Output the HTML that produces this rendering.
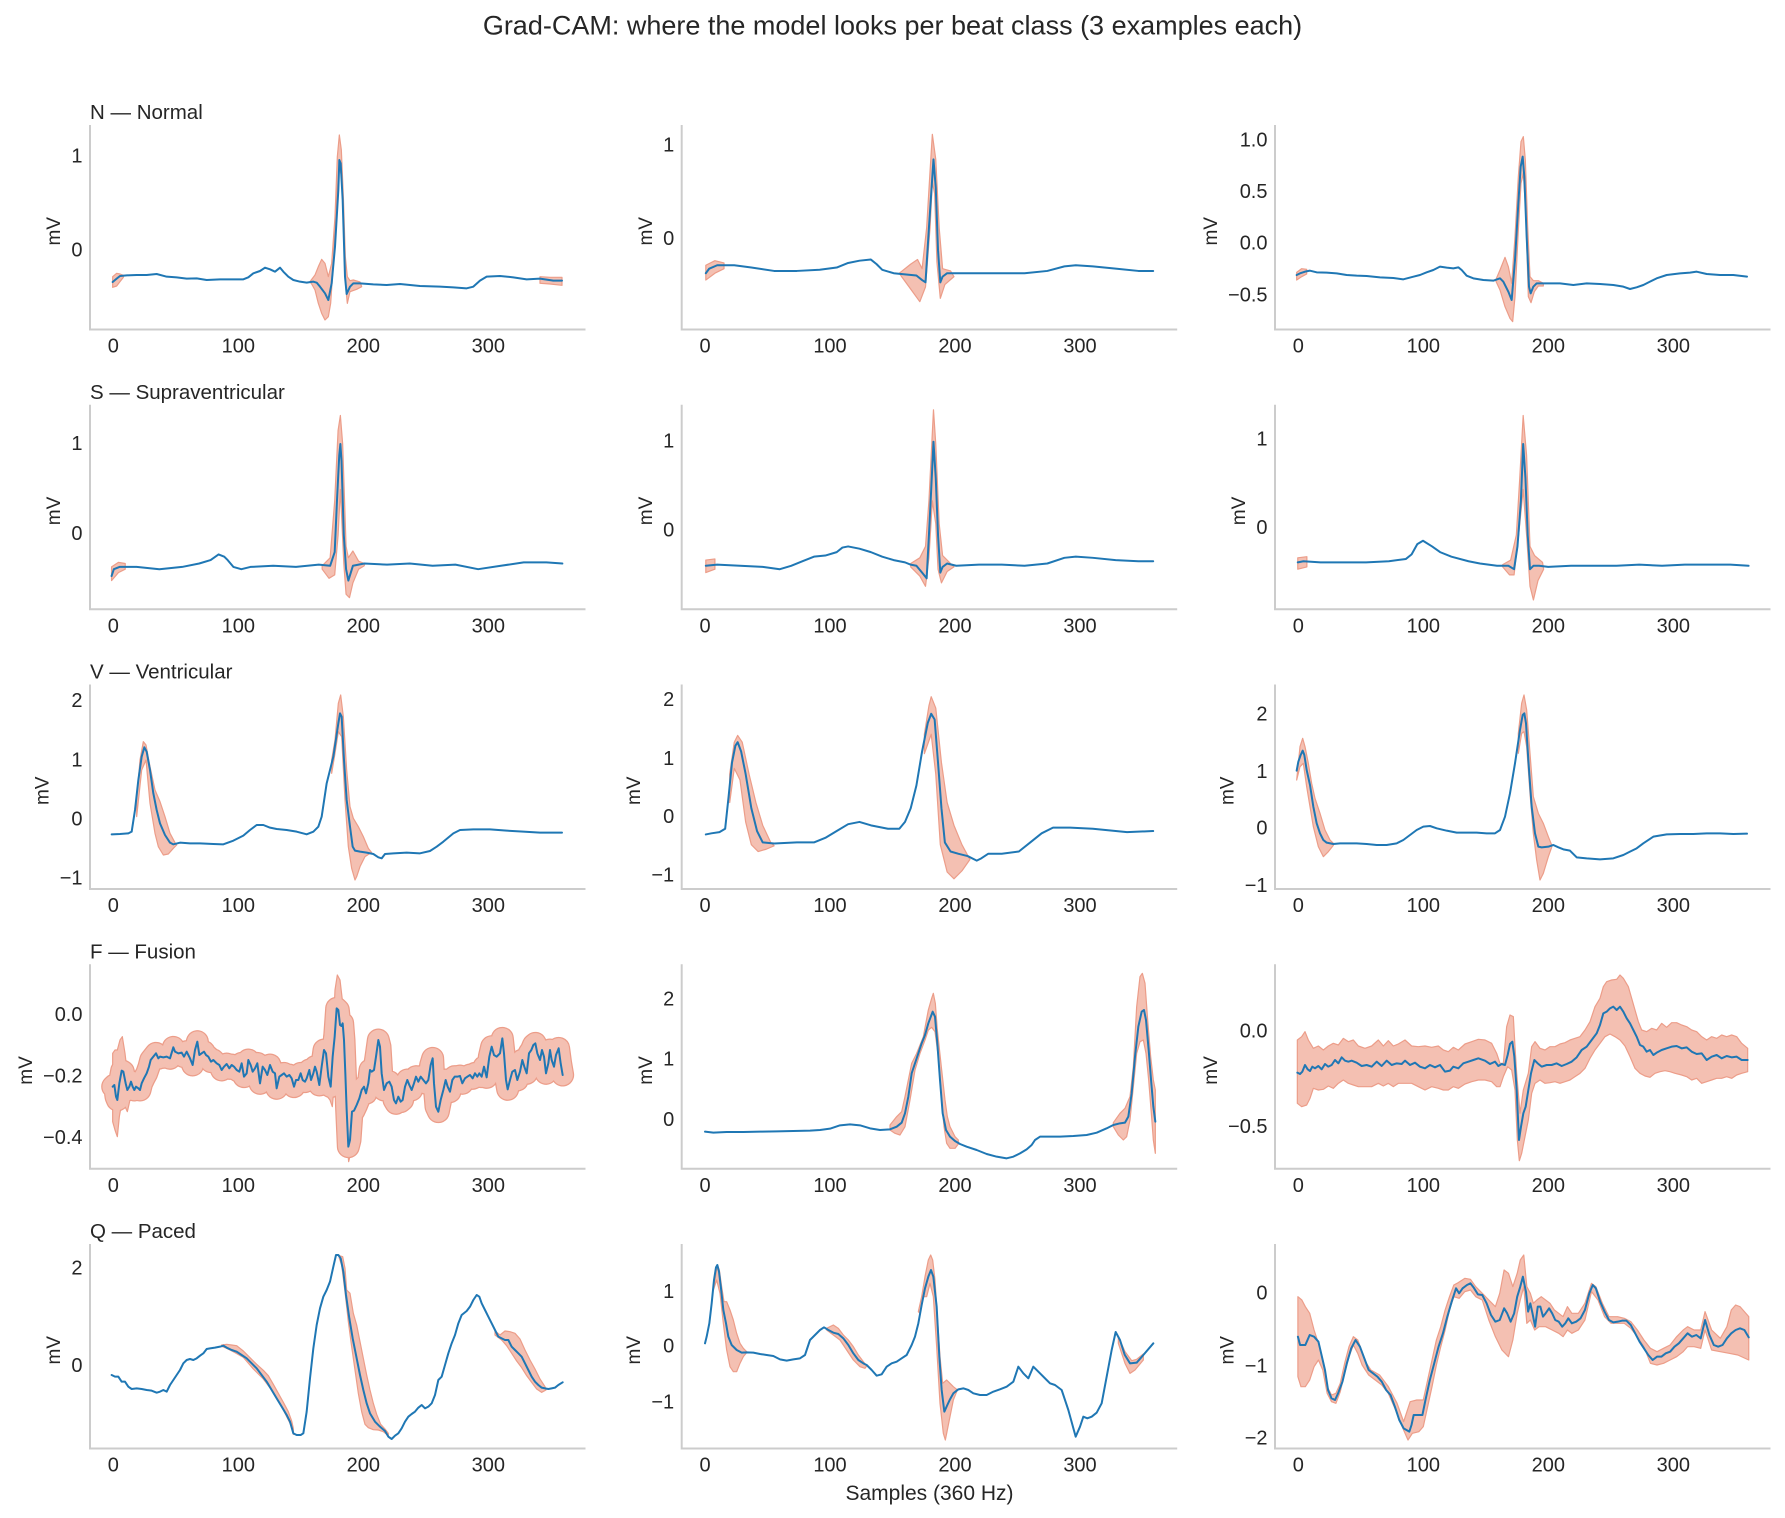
<!DOCTYPE html>
<html><head><meta charset="utf-8"><style>
html,body{margin:0;padding:0;background:#fff;overflow:hidden}
svg{display:block}
text{font-family:"Liberation Sans",Arial,sans-serif;fill:#262626}
.ln{fill:none;stroke:#1f77b4;stroke-width:2;stroke-linejoin:round;stroke-linecap:round;vector-effect:non-scaling-stroke}
.bd{fill:#f4c0b2;stroke:#ec9d89;stroke-width:1.2;stroke-linejoin:round;vector-effect:non-scaling-stroke}
.sp{fill:none;stroke:#cccccc;stroke-width:2}
.yt{font-size:20px;text-anchor:end}
.xt{font-size:20px;text-anchor:middle}
.ttl{font-size:20.5px}
.ml{font-size:19px;text-anchor:middle}
</style></head><body>
<svg width="1785" height="1518" viewBox="0 0 1785 1518" xmlns="http://www.w3.org/2000/svg">
<defs>
<polyline id="f1" vector-effect="non-scaling-stroke" points="98,440 103,435 108,470 112,480 118,430 125,392 130,395 137,430 142,450 148,440 153,425 158,440 163,450 168,440 175,445 180,450 185,430 192,415 200,400 207,380 212,360 220,350 228,340 235,355 240,350 250,352 260,350 270,355 280,322 285,335 295,340 305,338 312,350 320,335 330,355 338,375 345,330 352,305 358,345 365,340 372,335 378,345 385,350 393,365 400,360 410,370 418,375 425,390 432,380 440,372 448,385 455,375 462,380 470,390 478,395 485,370 492,410 500,400 505,360 512,375 518,395 525,385 532,370 540,430 548,380 555,390 562,405 570,375 578,395 585,400 590,445 598,410 605,405 612,400 620,410 628,405 635,415 642,440 648,420 655,420 662,400 668,420 675,425 680,415 688,390 693,420 700,400 705,380 710,395 718,435 725,380 732,330 738,340 745,410 752,440 758,350 764,290 770,205 775,210 780,255 784,258 788,250 792,300 796,400 800,510 805,620 810,600 816,515 822,512 830,495 838,475 845,450 852,440 858,460 865,430 870,390 875,395 882,390 888,350 895,300 900,320 905,400 912,450 920,430 928,425 935,440 942,480 948,490 955,470 962,485 968,480 975,440 982,420 988,435 995,450 1002,430 1008,410 1015,425 1022,410 1030,420 1038,430 1045,420 1052,375 1058,355 1062,430 1068,500 1075,515 1082,480 1090,450 1097,420 1103,440 1110,455 1117,420 1124,410 1132,410 1140,408 1147,430 1155,415 1162,410 1170,405 1178,415 1185,400 1192,410 1198,400 1205,410 1212,380 1220,412 1228,350 1235,320 1242,345 1250,350 1255,345 1260,340 1267,295 1272,340 1278,420 1283,448 1290,420 1297,395 1305,390 1312,420 1320,395 1327,360 1333,380 1340,400 1347,340 1354,330 1360,315 1366,310 1372,340 1380,360 1386,330 1392,350 1398,400 1405,370 1410,330 1415,360 1422,380 1428,345 1436,325 1442,370 1448,405"/>
</defs>
<rect width="1785" height="1518" fill="#fff"/>

<!-- Panel 1,1 (zoom3 frame) -->
<g transform="translate(20,90) scale(0.333333)">
<polygon class="bd" points="278,560 290,550 300,552 310,556 310,562 300,575 290,588 278,592"/>
<polygon class="bd" points="870,575 885,555 895,530 905,508 915,520 925,560 935,520 945,380 952,200 958,135 964,180 970,320 976,500 982,560 990,572 1000,570 1020,576 1025,590 1010,598 990,605 982,640 978,600 972,420 965,260 958,230 950,320 940,520 932,640 925,680 915,690 905,670 895,640 885,600 875,582"/>
<polygon class="bd" points="1560,560 1590,562 1626,562 1626,586 1590,582 1560,580"/>
<polyline class="ln" points="278,576 290,566 300,558 320,556 350,555 380,555 410,552 440,560 470,562 500,566 530,565 560,570 600,568 640,568 670,568 685,562 700,550 720,543 735,533 750,538 765,545 780,533 790,545 805,560 820,570 840,575 860,578 880,575 890,578 900,590 915,610 925,630 935,580 945,470 955,300 958,210 962,220 968,330 975,560 980,612 990,590 1000,580 1020,580 1060,583 1100,585 1140,582 1200,588 1260,590 1300,592 1340,595 1360,590 1380,572 1400,560 1440,558 1480,562 1520,568 1560,566 1600,572 1626,572"/>
</g>

<!-- Main display frame panels -->
<g transform="scale(1.138393)">
<!-- 1,2 -->
<polygon class="bd" points="620,233 628,229 636,231 636,236 628,240 620,246"/>
<polygon class="bd" points="790,240 800,232 806,228 810,236 814,200 817,150 819,118 822,140 825,200 828,236 835,238 838,243 830,250 826,262 823,230 821,170 819,160 817,200 813,252 808,265 800,254 792,243"/>
<polyline class="ln" points="620,240 623,236 630,233 645,233 660,235 680,238 700,238 720,237 735,235 745,231 755,229 765,228 770,232 775,237 785,240 795,241 805,242 810,246 813,248 816,200 818,170 820,140 822,165 824,220 826,248 828,243 832,240 840,240 870,240 900,240 920,238 935,234 945,233 960,234 980,236 1000,238 1013,238"/>
<!-- 2,1 -->
<polygon class="bd" points="98,498 104,494 110,495 110,500 104,503 98,510"/>
<polygon class="bd" points="283,497 290,490 294,440 297,378 299,365 301,390 304,480 306,490 310,484 315,493 320,495 320,497 315,500 310,512 307,525 304,522 302,495 299,430 297,470 294,505 289,508 283,500"/>
<polyline class="ln" points="98,506 100,500 105,498 120,498 140,500 160,498 175,495 185,492 192,487 197,489 200,492 205,498 212,500 220,498 240,497 260,498 280,496 290,497 294,485 296,440 298,400 299,390 300,405 302,470 304,500 306,510 310,497 320,495 340,496 360,495 380,497 400,496 420,500 440,497 460,494 480,494 494,495"/>
<!-- 2,2 -->
<polygon class="bd" points="620,492 628,491 628,500 620,503"/>
<polygon class="bd" points="800,495 808,490 813,480 816,440 818,400 820,360 822,390 825,460 828,488 835,495 838,498 832,502 827,512 824,500 822,460 819,440 816,490 813,515 808,506 800,498"/>
<polyline class="ln" points="620,497 630,496 650,497 670,498 685,500 695,497 705,493 715,489 725,488 735,485 740,481 745,480 755,482 765,485 775,489 785,492 795,494 800,496 805,497 810,503 814,508 816,470 818,430 820,388 822,420 824,470 826,503 828,498 832,495 840,497 860,496 880,496 900,497 920,495 935,490 945,489 960,490 980,492 1000,493 1013,493"/>
<!-- 2,3 -->
<polygon class="bd" points="1140,490 1148,489 1148,498 1140,500"/>
<polygon class="bd" points="1320,496 1327,492 1332,470 1335,420 1338,365 1341,400 1344,480 1348,488 1355,494 1356,500 1351,510 1347,527 1344,515 1341,470 1338,430 1334,470 1330,505 1326,505 1320,498"/>
<polyline class="ln" points="1140,494 1145,493 1160,494 1180,494 1200,494 1220,493 1235,491 1240,487 1245,478 1250,475 1258,480 1265,485 1275,489 1290,493 1300,495 1315,497 1325,497 1330,500 1333,480 1336,440 1338,390 1340,420 1342,470 1344,500 1347,497 1352,497 1360,498 1380,497 1400,497 1420,497 1440,496 1460,497 1480,496 1500,496 1520,496 1536,497"/>
<!-- 3,2 -->
<polygon class="bd" points="641,680 645,652 648,646 652,652 658,680 664,705 670,725 677,740 680,743 673,746 666,748 660,742 655,722 650,685 645,675 641,705"/>
<polygon class="bd" points="812,645 816,620 818,612 822,622 827,670 832,705 838,725 845,742 852,755 845,765 838,772 832,766 826,742 822,680 818,645 812,662"/>
<polyline class="ln" points="620,733 625,732 632,731 637,728 640,700 643,670 646,655 648,652 651,660 655,680 660,710 665,730 670,740 680,741 700,740 715,740 725,736 735,730 745,724 755,722 765,725 780,728 790,728 795,722 800,710 805,690 810,660 815,635 818,627 821,632 824,670 827,710 830,740 835,748 842,750 850,752 858,756 862,754 868,750 880,750 895,748 905,740 915,732 925,727 940,727 960,728 990,731 1013,730"/>
</g>

<!-- Panel 1,3 (zoom12 frame) -->
<g transform="translate(1200,110) scale(0.333333)">
<polygon class="bd" points="290,487 305,476 320,478 320,492 305,500 290,510"/>
<polygon class="bd" points="888,508 900,480 915,442 925,470 935,520 945,380 955,200 963,95 970,80 976,150 983,350 990,500 1000,512 1015,512 1030,520 1030,528 1015,528 1003,545 993,578 985,560 977,300 970,190 963,220 955,360 945,560 938,635 930,625 915,590 900,540 888,514"/>
<polyline class="ln" points="290,495 300,490 315,485 330,482 350,487 380,488 410,490 440,495 470,497 500,498 540,502 580,504 610,508 640,500 660,495 680,487 700,480 720,470 740,473 760,475 775,472 785,480 800,497 820,505 850,510 880,512 900,505 910,515 925,545 935,570 945,450 955,280 962,170 968,140 973,200 980,380 987,530 992,550 1000,530 1010,520 1040,520 1080,520 1120,525 1160,520 1200,522 1240,525 1270,530 1290,537 1310,532 1330,525 1350,515 1370,505 1400,495 1440,490 1470,488 1490,485 1520,492 1560,495 1600,495 1641,500"/>
</g>

<!-- Panel 3,1 (zoom10 frame) -->
<g transform="translate(40,660) scale(0.333333)">
<polygon class="bd" points="290,420 300,300 310,245 318,255 330,320 345,390 360,425 375,470 390,520 405,548 410,555 400,565 385,582 370,585 355,560 345,520 330,430 318,300 305,330 290,470"/>
<polygon class="bd" points="875,300 885,240 895,130 902,105 910,170 920,330 930,440 940,475 955,500 970,530 985,565 995,578 990,580 975,590 960,620 950,650 945,660 935,625 925,560 915,420 905,230 895,215 885,280 875,340"/>
<polyline class="ln" points="215,523 240,522 265,520 275,515 285,450 295,360 305,290 313,262 320,275 330,330 340,400 350,450 360,490 375,525 390,548 400,553 420,548 450,550 480,550 520,552 550,553 580,542 610,527 630,510 650,495 670,495 690,503 710,507 740,510 770,515 800,523 820,515 835,500 845,470 860,370 880,290 895,190 900,160 905,170 912,300 920,420 930,500 938,560 945,572 960,575 980,578 1000,582 1015,592 1025,595 1035,582 1060,580 1100,578 1140,580 1170,573 1190,560 1210,545 1240,520 1260,510 1300,508 1350,508 1400,512 1450,515 1500,518 1566,518"/>
</g>

<!-- Panel 3,3 (zoom11 frame) -->
<g transform="translate(1200,660) scale(0.333333)">
<polygon class="bd" points="290,360 300,260 308,235 315,260 325,310 335,370 345,415 360,460 375,510 390,540 400,550 400,556 385,575 370,590 355,560 340,500 330,440 320,380 310,310 300,320 290,360"/>
<polygon class="bd" points="955,220 965,130 972,105 980,150 990,280 1000,410 1015,460 1030,490 1045,530 1055,555 1055,562 1045,590 1030,640 1020,660 1010,600 1000,520 990,400 980,260 972,215 965,220 955,280"/>
<polyline class="ln" points="290,332 295,305 302,285 308,272 313,285 320,330 330,375 340,440 350,490 360,520 370,540 380,548 400,552 420,550 440,550 470,550 500,552 530,555 560,555 590,550 610,540 630,525 650,510 670,500 690,498 710,505 740,512 770,518 800,518 830,518 860,520 885,520 900,510 915,470 930,400 945,310 960,210 968,165 973,160 978,190 985,300 995,440 1005,520 1015,560 1025,562 1045,560 1060,555 1075,562 1090,568 1110,572 1130,592 1160,595 1200,598 1240,595 1270,585 1290,575 1310,565 1330,550 1360,530 1400,523 1440,522 1480,522 1520,520 1560,520 1600,522 1641,521"/>
</g>

<!-- Panel 4,1 (zoom6 frame) -->
<g transform="translate(80,940) scale(0.333333)">
<use href="#f1" fill="none" stroke="#ec9d89" stroke-width="23" stroke-linejoin="round" stroke-linecap="round"/>
<polygon class="bd" points="98,340 105,330 112,330 120,300 127,290 135,340 142,400 150,410 150,480 142,515 135,500 125,490 118,530 112,590 105,570 98,545"/>
<polygon class="bd" points="725,330 735,265 742,300 750,410 758,300 765,150 772,105 780,120 787,180 792,260 797,350 804,540 812,575 820,480 820,560 812,640 806,665 800,600 794,430 788,320 782,290 776,300 770,300 764,420 757,500 750,480 742,470 735,420 725,440"/>
<use href="#f1" fill="none" stroke="#f4c0b2" stroke-width="20.5" stroke-linejoin="round" stroke-linecap="round"/>
<use href="#f1" fill="none" stroke="#1f77b4" stroke-width="2" stroke-linejoin="round" stroke-linecap="round"/>
</g>

<!-- Panel 4,2 (zoom9 frame) -->
<g transform="translate(660,940) scale(0.333333)">
<polygon class="bd" points="690,555 710,530 725,515 735,470 755,370 770,340 790,290 805,210 815,175 820,160 826,190 832,270 845,390 855,480 862,530 870,560 885,590 895,600 895,612 885,625 870,625 860,610 852,560 845,480 835,350 825,275 815,262 805,270 795,300 780,340 765,390 750,480 735,560 720,585 705,580 690,570"/>
<polygon class="bd" points="1360,548 1380,520 1395,505 1410,470 1420,380 1430,200 1440,110 1447,100 1455,130 1463,240 1472,350 1480,420 1486,450 1486,640 1480,600 1474,520 1466,420 1458,340 1450,300 1440,305 1430,340 1420,440 1410,540 1400,590 1390,600 1375,585 1360,560"/>
<polyline class="ln" points="135,575 160,578 200,576 250,576 300,575 350,574 400,573 450,572 480,570 510,566 540,556 570,553 600,556 630,565 660,570 690,568 710,560 725,548 735,520 745,470 755,400 765,370 775,340 785,310 795,285 805,250 818,215 825,230 832,310 840,420 848,520 858,570 870,590 885,603 900,612 920,620 950,630 980,642 1010,650 1040,655 1060,650 1080,640 1100,628 1115,615 1125,600 1140,590 1160,590 1200,590 1240,588 1280,585 1310,578 1340,565 1360,555 1380,550 1395,548 1405,530 1415,460 1425,350 1435,260 1445,215 1452,210 1458,240 1466,330 1474,430 1480,500 1486,545"/>
</g>

<!-- Panel 4,3 (zoom7 frame) -->
<g transform="translate(1265,940) scale(0.333333)">
<polygon class="bd" points="97,300 110,290 120,275 130,300 145,325 160,318 175,330 190,318 205,310 220,315 235,295 250,305 265,300 280,318 300,325 320,318 340,300 355,318 370,302 385,318 400,312 420,300 440,318 460,320 480,318 500,322 520,318 535,330 550,335 565,322 580,330 600,312 620,305 640,298 660,300 680,310 695,340 705,370 715,370 725,260 735,225 745,230 750,320 755,400 765,520 775,450 790,400 800,320 810,305 825,325 840,330 855,320 870,320 885,312 900,308 915,300 930,295 945,290 960,270 975,245 990,200 1005,175 1015,140 1025,125 1040,120 1055,118 1065,105 1075,115 1090,140 1100,175 1110,210 1120,245 1130,270 1145,275 1160,265 1175,270 1190,250 1205,262 1220,248 1235,248 1250,255 1265,260 1280,270 1295,275 1310,290 1325,300 1340,290 1355,295 1370,285 1385,290 1400,285 1415,290 1430,310 1448,325 1448,395 1430,400 1415,405 1400,415 1385,410 1370,415 1355,415 1340,420 1325,425 1310,430 1295,415 1280,420 1265,410 1250,405 1230,400 1215,395 1200,392 1185,395 1170,400 1155,412 1140,408 1125,400 1110,385 1095,350 1080,318 1065,300 1050,290 1035,282 1020,290 1005,310 990,330 975,355 960,385 945,400 930,410 915,420 900,425 885,430 870,425 855,428 840,430 825,420 810,430 800,460 790,540 780,590 770,640 763,662 757,600 750,450 740,390 728,380 715,410 705,440 695,440 680,425 660,420 640,420 620,425 600,432 580,445 565,440 550,450 535,450 520,445 500,440 480,450 460,440 440,430 420,430 400,430 385,440 370,430 355,438 340,430 320,440 300,440 280,440 265,435 250,430 235,420 220,430 205,445 190,438 175,448 160,450 145,445 135,475 125,495 110,500 97,490"/>
<polyline class="ln" points="97,398 105,402 112,395 120,375 128,388 135,393 142,380 150,385 160,378 170,388 180,372 190,380 200,375 210,360 220,370 230,352 240,362 250,365 260,362 275,368 290,378 305,375 320,380 335,365 350,378 365,362 380,375 395,370 410,372 420,362 435,375 450,368 465,380 480,385 495,375 510,382 525,375 540,395 555,392 565,380 580,385 595,370 610,365 625,360 640,355 660,362 675,372 690,365 700,378 710,372 720,375 728,345 735,312 742,305 748,350 755,450 762,600 768,560 775,520 782,500 790,450 798,400 808,360 818,370 830,380 845,375 860,375 875,370 890,378 905,372 920,365 935,352 950,330 965,320 980,300 995,280 1005,255 1015,220 1025,215 1035,205 1045,200 1055,210 1065,200 1075,215 1085,235 1095,250 1105,270 1115,290 1125,315 1135,320 1145,335 1155,330 1165,345 1175,338 1190,330 1205,325 1220,320 1235,318 1250,325 1265,322 1280,335 1295,342 1310,340 1325,360 1340,350 1355,345 1370,355 1385,348 1400,352 1415,350 1430,360 1448,360"/>
</g>

<!-- Panel 5,1 (zoom8 frame) -->
<g transform="translate(60,1225) scale(0.333333)">
<polygon class="bd" points="485,360 500,358 515,360 530,362 550,378 570,398 590,418 610,436 625,452 640,478 655,505 670,532 685,560 695,588 700,610 700,628 695,605 680,575 660,535 640,502 610,462 580,432 550,397 520,380 500,370 485,364"/>
<polygon class="bd" points="838,92 848,95 855,130 860,195 870,205 880,265 890,300 900,350 910,400 920,450 930,495 940,535 950,568 962,598 975,612 985,625 985,632 970,620 955,615 940,614 925,608 915,598 905,560 895,505 885,435 875,365 865,290 855,200 845,120 838,100"/>
<polygon class="bd" points="1305,318 1320,330 1335,318 1350,320 1365,325 1380,342 1395,375 1410,405 1425,432 1440,462 1455,485 1458,495 1445,502 1430,492 1415,472 1400,452 1385,428 1370,408 1355,385 1340,362 1325,345 1305,330"/>
<polyline class="ln" points="155,450 165,455 175,455 185,470 195,470 205,485 215,492 230,490 245,492 260,495 275,497 290,503 300,500 310,495 320,500 330,480 340,465 350,450 360,435 370,415 380,405 390,402 400,405 410,400 420,392 430,385 440,372 450,370 465,368 480,365 490,362 500,368 515,375 530,380 545,390 560,400 575,415 590,430 605,450 620,470 635,495 650,520 665,545 680,570 690,590 700,625 710,630 722,630 730,625 740,560 750,460 760,370 770,300 780,250 790,215 800,195 810,170 820,125 828,90 835,90 842,100 850,140 858,210 868,280 878,340 890,400 900,450 910,495 920,535 930,565 945,590 960,605 975,618 985,635 995,642 1005,632 1015,625 1025,610 1035,590 1045,575 1055,567 1065,560 1075,548 1085,540 1095,550 1105,545 1115,535 1125,510 1135,465 1145,455 1155,420 1165,385 1175,355 1185,330 1195,295 1205,270 1220,258 1230,245 1240,225 1250,210 1258,215 1265,235 1275,255 1285,275 1295,295 1305,315 1315,335 1325,340 1335,345 1345,345 1355,365 1365,375 1375,385 1385,395 1395,415 1405,435 1415,455 1425,470 1435,480 1445,488 1455,490 1465,492 1475,490 1485,488 1495,480 1508,472"/>
</g>

<!-- Panel 5,2 (zoom5 frame) -->
<g transform="translate(600,1230) scale(0.333333)">
<polygon class="bd" points="352,105 358,120 365,170 372,215 380,215 390,240 400,270 410,310 420,340 430,355 440,365 440,368 430,380 420,400 410,425 400,425 390,410 380,360 370,280 360,190 350,150 340,180"/>
<polygon class="bd" points="680,295 700,285 715,295 730,315 745,330 760,350 775,375 790,395 800,408 795,415 780,410 760,390 740,360 720,330 700,315 680,300"/>
<polygon class="bd" points="955,245 965,200 975,140 985,90 992,75 998,90 1005,150 1012,260 1020,380 1028,460 1040,450 1050,460 1060,470 1070,478 1070,485 1060,510 1050,560 1042,600 1036,630 1030,610 1020,520 1010,350 1000,200 990,160 980,200 970,200 960,250"/>
<polygon class="bd" points="1555,320 1575,365 1595,392 1610,388 1630,372 1630,390 1605,420 1590,430 1575,400 1555,340"/>
<polyline class="ln" points="315,340 320,320 328,280 335,220 342,150 348,112 352,105 357,125 363,175 370,240 378,280 385,320 395,345 410,360 425,368 440,367 460,368 480,372 500,375 520,378 540,388 560,392 580,388 600,385 615,375 630,330 645,315 660,300 672,292 685,300 700,308 715,312 730,325 745,345 760,370 775,390 790,400 800,405 815,420 830,437 845,433 860,410 875,400 890,395 905,385 920,375 935,345 945,320 955,280 965,225 975,175 985,140 993,120 1000,140 1010,230 1018,380 1025,480 1033,545 1042,525 1050,508 1060,490 1075,478 1090,475 1105,480 1120,490 1140,495 1160,495 1180,485 1200,478 1220,470 1240,455 1255,410 1270,430 1285,445 1300,410 1320,430 1340,450 1350,460 1365,465 1385,480 1405,540 1427,620 1440,590 1450,560 1462,565 1475,560 1490,548 1505,520 1520,440 1535,360 1547,306 1560,330 1574,374 1590,400 1610,398 1630,375 1660,340"/>
</g>

<!-- Panel 5,3 (zoom2 frame, non-uniform) -->
<g transform="translate(1100,1100) scale(0.43687,0.333333)">
<polygon class="bd" points="453,590 462,600 470,620 480,640 490,690 500,730 510,780 520,860 530,885 540,880 550,850 560,790 570,740 580,710 590,720 600,755 610,790 620,810 640,825 660,860 680,910 695,965 710,905 725,900 740,900 750,840 760,780 770,720 780,680 790,630 800,590 810,555 820,548 835,535 848,538 860,560 875,580 890,600 905,620 915,580 925,510 935,520 945,560 955,520 962,480 970,465 977,560 985,580 992,610 1000,600 1010,590 1020,600 1030,610 1040,630 1050,640 1060,650 1070,620 1080,640 1095,640 1110,610 1125,550 1135,560 1150,610 1165,650 1185,650 1200,655 1215,665 1230,690 1245,720 1260,745 1275,755 1290,745 1305,735 1320,710 1335,690 1345,680 1360,690 1375,690 1385,635 1400,690 1420,715 1435,680 1445,630 1455,615 1465,620 1475,635 1485,650 1485,780 1460,765 1440,760 1420,755 1400,750 1385,690 1375,745 1360,740 1345,740 1335,755 1320,770 1305,780 1290,790 1275,795 1260,790 1245,740 1230,710 1215,685 1200,670 1185,670 1170,670 1155,650 1140,600 1125,575 1110,660 1095,690 1080,700 1070,690 1060,710 1050,700 1035,690 1020,680 1005,680 995,690 985,660 977,670 970,560 962,600 955,640 945,720 935,770 920,750 905,710 890,660 875,600 860,590 848,570 835,575 822,595 810,590 800,630 790,690 780,740 770,795 760,860 750,920 740,980 730,995 715,1000 705,1020 690,975 675,925 660,880 645,855 630,840 615,825 600,795 590,760 580,735 570,770 560,820 550,875 540,910 530,905 520,880 510,810 500,780 490,800 480,840 470,860 460,860 453,830"/>
<polyline class="ln" points="453,710 458,735 470,735 480,705 490,710 500,725 508,770 515,810 522,870 530,895 538,900 545,880 555,845 565,790 575,745 585,720 595,740 605,775 615,810 625,820 635,830 645,845 655,870 665,885 675,920 685,960 695,985 708,995 713,975 718,945 730,945 738,945 745,900 755,840 765,790 775,740 785,700 795,650 805,605 815,565 822,580 830,565 840,555 848,550 855,562 865,583 875,585 885,610 895,645 905,665 915,660 925,625 932,640 940,665 948,640 955,590 962,560 968,530 975,575 980,635 985,610 990,640 996,680 1002,620 1008,620 1014,650 1020,640 1028,625 1035,640 1042,660 1050,665 1058,680 1065,670 1072,655 1080,670 1090,665 1100,655 1110,630 1120,580 1128,555 1135,565 1145,605 1155,635 1165,660 1175,667 1185,665 1195,662 1205,662 1215,675 1225,700 1235,725 1245,745 1255,765 1265,780 1275,770 1285,770 1295,760 1305,755 1315,740 1325,730 1335,715 1345,700 1355,710 1365,705 1375,715 1385,660 1395,705 1405,735 1415,740 1425,735 1435,715 1445,700 1455,690 1465,685 1475,690 1485,712"/>
</g>

<!-- Spines -->
<g class="sp">
<path d="M90,125 V329.5 H585.5"/><path d="M681.7,125 V329.5 H1177.2"/><path d="M1275,125 V329.5 H1770.5"/>
<path d="M90,404.8 V609.3 H585.5"/><path d="M681.7,404.8 V609.3 H1177.2"/><path d="M1275,404.8 V609.3 H1770.5"/>
<path d="M90,684.5 V889 H585.5"/><path d="M681.7,684.5 V889 H1177.2"/><path d="M1275,684.5 V889 H1770.5"/>
<path d="M90,964.3 V1168.8 H585.5"/><path d="M681.7,964.3 V1168.8 H1177.2"/><path d="M1275,964.3 V1168.8 H1770.5"/>
<path d="M90,1244 V1448.5 H585.5"/><path d="M681.7,1244 V1448.5 H1177.2"/><path d="M1275,1244 V1448.5 H1770.5"/>
</g>

<!-- Suptitle -->
<text x="892.5" y="34.5" font-size="27" text-anchor="middle">Grad-CAM: where the model looks per beat class (3 examples each)</text>

<!-- Panel titles -->
<text class="ttl" x="90" y="119">N — Normal</text>
<text class="ttl" x="90" y="398.8">S — Supraventricular</text>
<text class="ttl" x="90" y="678.5">V — Ventricular</text>
<text class="ttl" x="90" y="958.3">F — Fusion</text>
<text class="ttl" x="90" y="1238">Q — Paced</text>

<!-- X tick labels -->
<g class="xt">
<text x="113.3" y="352.5">0</text><text x="238.3" y="352.5">100</text><text x="363.3" y="352.5">200</text><text x="488.3" y="352.5">300</text>
<text x="705" y="352.5">0</text><text x="830" y="352.5">100</text><text x="955" y="352.5">200</text><text x="1080" y="352.5">300</text>
<text x="1298.3" y="352.5">0</text><text x="1423.3" y="352.5">100</text><text x="1548.3" y="352.5">200</text><text x="1673.3" y="352.5">300</text>

<text x="113.3" y="632.3">0</text><text x="238.3" y="632.3">100</text><text x="363.3" y="632.3">200</text><text x="488.3" y="632.3">300</text>
<text x="705" y="632.3">0</text><text x="830" y="632.3">100</text><text x="955" y="632.3">200</text><text x="1080" y="632.3">300</text>
<text x="1298.3" y="632.3">0</text><text x="1423.3" y="632.3">100</text><text x="1548.3" y="632.3">200</text><text x="1673.3" y="632.3">300</text>

<text x="113.3" y="912">0</text><text x="238.3" y="912">100</text><text x="363.3" y="912">200</text><text x="488.3" y="912">300</text>
<text x="705" y="912">0</text><text x="830" y="912">100</text><text x="955" y="912">200</text><text x="1080" y="912">300</text>
<text x="1298.3" y="912">0</text><text x="1423.3" y="912">100</text><text x="1548.3" y="912">200</text><text x="1673.3" y="912">300</text>

<text x="113.3" y="1191.8">0</text><text x="238.3" y="1191.8">100</text><text x="363.3" y="1191.8">200</text><text x="488.3" y="1191.8">300</text>
<text x="705" y="1191.8">0</text><text x="830" y="1191.8">100</text><text x="955" y="1191.8">200</text><text x="1080" y="1191.8">300</text>
<text x="1298.3" y="1191.8">0</text><text x="1423.3" y="1191.8">100</text><text x="1548.3" y="1191.8">200</text><text x="1673.3" y="1191.8">300</text>

<text x="113.3" y="1471.5">0</text><text x="238.3" y="1471.5">100</text><text x="363.3" y="1471.5">200</text><text x="488.3" y="1471.5">300</text>
<text x="705" y="1471.5">0</text><text x="830" y="1471.5">100</text><text x="955" y="1471.5">200</text><text x="1080" y="1471.5">300</text>
<text x="1298.3" y="1471.5">0</text><text x="1423.3" y="1471.5">100</text><text x="1548.3" y="1471.5">200</text><text x="1673.3" y="1471.5">300</text>
</g>

<!-- Y tick labels -->
<g class="yt">
<text x="82.5" y="162.7">1</text><text x="82.5" y="256.3">0</text>
<text x="674.2" y="151.6">1</text><text x="674.2" y="244.9">0</text>
<text x="1267.5" y="146.3">1.0</text><text x="1267.5" y="198">0.5</text><text x="1267.5" y="249.7">0.0</text><text x="1267.5" y="301.3">−0.5</text>
<text x="82.5" y="449.8">1</text><text x="82.5" y="539.8">0</text>
<text x="674.2" y="447.6">1</text><text x="674.2" y="536.4">0</text>
<text x="1267.5" y="445.3">1</text><text x="1267.5" y="534.1">0</text>
<text x="82.5" y="707">2</text><text x="82.5" y="766.3">1</text><text x="82.5" y="825.3">0</text><text x="82.5" y="884.3">−1</text>
<text x="674.2" y="706">2</text><text x="674.2" y="765.2">1</text><text x="674.2" y="823.2">0</text><text x="674.2" y="881.3">−1</text>
<text x="1267.5" y="720.3">2</text><text x="1267.5" y="778">1</text><text x="1267.5" y="834.7">0</text><text x="1267.5" y="892">−1</text>
<text x="82.5" y="1021">0.0</text><text x="82.5" y="1082.5">−0.2</text><text x="82.5" y="1144">−0.4</text>
<text x="674.2" y="1005.3">2</text><text x="674.2" y="1065.3">1</text><text x="674.2" y="1126">0</text>
<text x="1267.5" y="1037.5">0.0</text><text x="1267.5" y="1133">−0.5</text>
<text x="82.5" y="1274.7">2</text><text x="82.5" y="1372">0</text>
<text x="674.2" y="1298">1</text><text x="674.2" y="1352.7">0</text><text x="674.2" y="1408.7">−1</text>
<text x="1267.5" y="1299.7">0</text><text x="1267.5" y="1372.7">−1</text><text x="1267.5" y="1444.7">−2</text>
</g>

<!-- mV labels -->
<g class="ml">
<text transform="translate(60.2,231.3) rotate(-90)">mV</text>
<text transform="translate(651.9,231.3) rotate(-90)">mV</text>
<text transform="translate(1216.8,231.3) rotate(-90)">mV</text>
<text transform="translate(60.2,511) rotate(-90)">mV</text>
<text transform="translate(651.9,511) rotate(-90)">mV</text>
<text transform="translate(1245.2,511) rotate(-90)">mV</text>
<text transform="translate(48.5,790.8) rotate(-90)">mV</text>
<text transform="translate(640.2,790.8) rotate(-90)">mV</text>
<text transform="translate(1233.5,790.8) rotate(-90)">mV</text>
<text transform="translate(31.8,1070.5) rotate(-90)">mV</text>
<text transform="translate(651.9,1070.5) rotate(-90)">mV</text>
<text transform="translate(1216.8,1070.5) rotate(-90)">mV</text>
<text transform="translate(60.2,1350.3) rotate(-90)">mV</text>
<text transform="translate(640.2,1350.3) rotate(-90)">mV</text>
<text transform="translate(1233.5,1350.3) rotate(-90)">mV</text>
</g>

<text x="929.5" y="1500" font-size="21" text-anchor="middle">Samples (360 Hz)</text>
</svg>
</body></html>
